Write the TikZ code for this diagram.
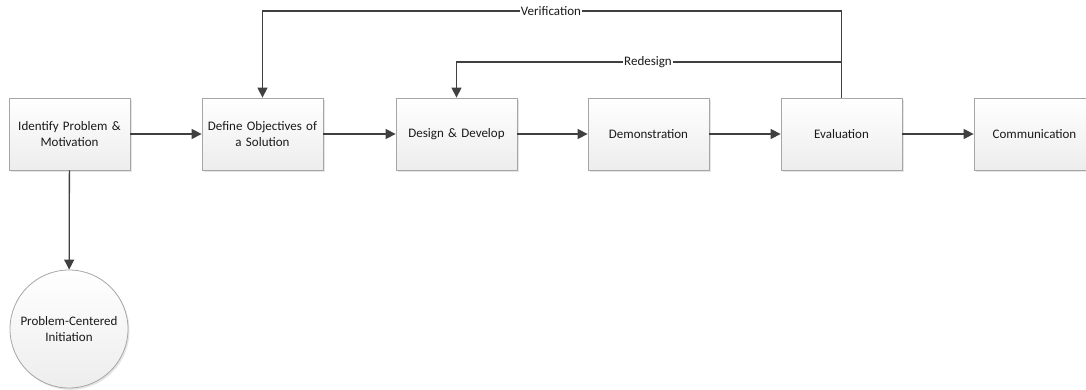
\documentclass[tikz,border=0pt]{standalone}
\usepackage{fontspec}
\setmainfont{Carlito}
\usetikzlibrary{arrows.meta,shadows,positioning}
\definecolor{edgegray}{HTML}{A6A6A6}
\definecolor{linedark}{HTML}{404040}
\definecolor{shadegray}{HTML}{EDEDED}
\definecolor{textdark}{HTML}{1A1A1A}
\tikzset{
  stepbox/.style={draw=edgegray, line width=0.8pt, minimum width=121pt, minimum height=72pt,
    top color=white, bottom color=shadegray, align=center, text width=118pt, inner sep=1pt,
    font=\fontsize{13}{15.5}\selectfont, text=textdark,
    drop shadow={shadow xshift=1.5pt, shadow yshift=-1.8pt, fill=black, opacity=0.10}},
  startcircle/.style={draw=edgegray, line width=0.8pt, circle, minimum size=118pt, inner sep=0pt,
    top color=white, bottom color=shadegray, align=center, text width=114pt,
    font=\fontsize{13}{15.5}\selectfont, text=textdark,
    drop shadow={shadow xshift=1.5pt, shadow yshift=-1.8pt, fill=black, opacity=0.10}},
  flow/.style={draw=linedark, line width=1.3pt, -{Triangle[length=10pt,width=10pt]}},
  loopline/.style={draw=linedark, line width=1.3pt},
  looplabel/.style={fill=white, inner sep=1pt, font=\fontsize{13}{15}\selectfont, text=textdark}
}
\begin{document}
\begin{tikzpicture}[x=1pt,y=-1pt]
  \useasboundingbox (0,0) rectangle (1086,390);
  \clip (0,0) rectangle (1086,390);
  % process steps, left to right
  \node[stepbox] (identify) at (69.5,134) {Identify Problem \&\\Motivation};
  \node[stepbox] (objectives) at (262.5,134) {Define Objectives of\\a Solution};
  \node[stepbox] (design) at (456.5,134) {Design \& Develop};
  \node[stepbox] (demo) at (648.5,134) {Demonstration};
  \node[stepbox] (evaluation) at (841.5,134) {Evaluation};
  \node[stepbox] (communication) at (1034.5,134) {Communication};
  % entry point
  \node[startcircle] (initiation) at (69,329) {Problem-Centered\\Initiation};

  % forward flow
  \draw[flow] (identify) -- (objectives);
  \draw[flow] (objectives) -- (design);
  \draw[flow] (design) -- (demo);
  \draw[flow] (demo) -- (evaluation);
  \draw[flow] (evaluation) -- (communication);
  \draw[flow] (identify) -- (initiation);

  % feedback loops from evaluation
  \coordinate (vtop) at (841.5,11);
  \coordinate (rtop) at (841.5,62);
  \draw[loopline] (evaluation.north) -- (vtop);
  \draw[flow] (vtop) -- (objectives.north |- vtop) -- (objectives.north);
  \draw[flow] (rtop) -- (design.north |- rtop) -- (design.north);
  \node[looplabel] (verlabel) at (551,11) {Verification};
  \node[looplabel] (redlabel) at (648,62) {Redesign};
\end{tikzpicture}
\end{document}
